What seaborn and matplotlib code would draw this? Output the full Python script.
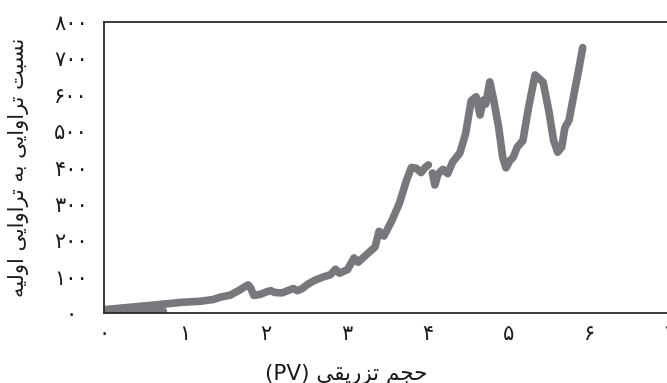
import matplotlib
matplotlib.use("Agg")
import matplotlib.pyplot as plt
import seaborn as sns
import pandas as pd

# ---------------- data ----------------
x_ticks = [0, 1, 2, 3, 4, 5, 6, 7]
x_tick_labels = ["۰", "۱", "۲", "۳", "۴", "۵", "۶", "۷"]
y_ticks = [0, 100, 200, 300, 400, 500, 600, 700, 800]
y_tick_labels = ["۰", "۱۰۰", "۲۰۰", "۳۰۰", "۴۰۰", "۵۰۰", "۶۰۰", "۷۰۰", "۸۰۰"]

# dense noisy start of the record (band between low and high readings)
wedge_x = [0.0, 0.73]
wedge_low = [5, 6]
wedge_high = [10, 25]

seg1_x = [0.73, 0.95, 1.19, 1.35, 1.43, 1.56, 1.66, 1.74, 1.78, 1.81, 1.85, 1.93,
          2.01, 2.06, 2.11, 2.20, 2.29, 2.34, 2.39, 2.45, 2.52, 2.60, 2.70, 2.80,
          2.86, 2.91, 3.01, 3.09, 3.14, 3.24, 3.35, 3.40, 3.46, 3.56, 3.65, 3.74,
          3.80, 3.86, 3.92, 3.97, 4.01]
seg1_y = [25, 30, 33, 38, 44, 50, 62, 73, 78, 70, 49, 52,
          59, 62, 57, 56, 64, 68, 62, 68, 80, 90, 99, 106,
          121, 110, 120, 152, 140, 160, 182, 225, 212, 255, 301, 365,
          400, 398, 386, 400, 407]

seg2_x = [4.06, 4.09, 4.13, 4.19, 4.25, 4.31, 4.40, 4.47, 4.54, 4.60, 4.65, 4.69,
          4.72, 4.77, 4.82, 4.88, 4.93, 4.97, 5.02, 5.06, 5.11, 5.18, 5.25, 5.33,
          5.43, 5.50, 5.56, 5.61, 5.66, 5.70, 5.75, 5.82, 5.86, 5.92]
seg2_y = [385, 352, 382, 395, 383, 415, 440, 492, 583, 594, 544, 585,
          574, 635, 583, 510, 428, 399, 419, 428, 456, 474, 565, 654,
          634, 556, 474, 442, 456, 510, 529, 611, 656, 729]

y_label = "نسبت تراوایی به تراوایی اولیه"
x_label_fa = "حجم تزریقی"
x_label_unit = "(PV)"

# ---------------- simple Persian shaping ----------------
FORMS = {
    'ا': (0xFE8D, 0xFE8E, None, None),
    'ب': (0xFE8F, 0xFE90, 0xFE91, 0xFE92),
    'ت': (0xFE95, 0xFE96, 0xFE97, 0xFE98),
    'ج': (0xFE9D, 0xFE9E, 0xFE9F, 0xFEA0),
    'ح': (0xFEA1, 0xFEA2, 0xFEA3, 0xFEA4),
    'ر': (0xFEAD, 0xFEAE, None, None),
    'ز': (0xFEAF, 0xFEB0, None, None),
    'س': (0xFEB1, 0xFEB2, 0xFEB3, 0xFEB4),
    'ق': (0xFED5, 0xFED6, 0xFED7, 0xFED8),
    'ل': (0xFEDD, 0xFEDE, 0xFEDF, 0xFEE0),
    'م': (0xFEE1, 0xFEE2, 0xFEE3, 0xFEE4),
    'ن': (0xFEE5, 0xFEE6, 0xFEE7, 0xFEE8),
    'ه': (0xFEE9, 0xFEEA, 0xFEEB, 0xFEEC),
    'و': (0xFEED, 0xFEEE, None, None),
    'ی': (0xFEEF, 0xFEF0, 0xFEF3, 0xFEF4),
}


def shape(text):
    out = []
    n = len(text)
    for i, ch in enumerate(text):
        if ch not in FORMS:
            out.append(ch)
            continue
        iso, fin, ini, med = FORMS[ch]
        prev = text[i - 1] if i > 0 else None
        nxt = text[i + 1] if i < n - 1 else None
        joins_prev = prev in FORMS and FORMS[prev][2] is not None
        joins_next = nxt in FORMS and ini is not None
        if joins_prev and joins_next:
            cp = med
        elif joins_prev:
            cp = fin
        elif joins_next:
            cp = ini
        else:
            cp = iso
        out.append(chr(cp))
    return "".join(out)[::-1]


# ---------------- plot ----------------
sns.set_style("white")
plt.rcParams['font.family'] = ['DejaVu Sans']

W, H = 667, 383
fig = plt.figure(figsize=(W / 100, H / 100), dpi=100)
ax_w = (670 - 104.3)
ax = fig.add_axes([104.3 / W, (H - 313.3) / H, ax_w / W, (313.3 - 21.7) / H])

line_color = "#78787c"
lw = 5.5

ax.fill_between(wedge_x, wedge_low, wedge_high, color=line_color, lw=0)
for yy in (wedge_low, wedge_high):
    ax.plot(wedge_x, yy, color=line_color, lw=lw, solid_capstyle="round")

df1 = pd.DataFrame({"x": seg1_x, "y": seg1_y})
df2 = pd.DataFrame({"x": seg2_x, "y": seg2_y})
for d in (df1, df2):
    sns.lineplot(data=d, x="x", y="y", ax=ax, color=line_color, lw=lw,
                 sort=False, estimator=None, solid_capstyle="round",
                 solid_joinstyle="round")

ax.set_xlim(0, 7)
ax.set_ylim(0, 800)
ax.set_xticks(x_ticks)
ax.set_xticklabels(x_tick_labels)
ax.set_yticks(y_ticks)
ax.set_yticklabels(y_tick_labels)

for s in ax.spines.values():
    s.set_visible(True)
    s.set_color("#2a2a2a")
    s.set_linewidth(1.3)

ax.tick_params(axis="both", direction="out", length=3, width=1.1, color="#2a2a2a",
               labelsize=15, labelcolor="#1a1a1a")
ax.tick_params(axis="y", pad=21)
ax.tick_params(axis="x", pad=5)
for t in ax.get_yticklabels():
    t.set_horizontalalignment("center")

ax.set_xlabel("")
ax.set_ylabel(shape(y_label), fontsize=15, color="#1a1a1a")
ax.yaxis.set_label_coords(-(104.3 - 29) / ax_w, 0.5)

fig.text(346 / W, 1 - 374 / H, x_label_unit + " " + shape(x_label_fa),
         ha="center", va="center", fontsize=15.5, color="#1a1a1a")

fig.savefig("out.png", dpi=100)
